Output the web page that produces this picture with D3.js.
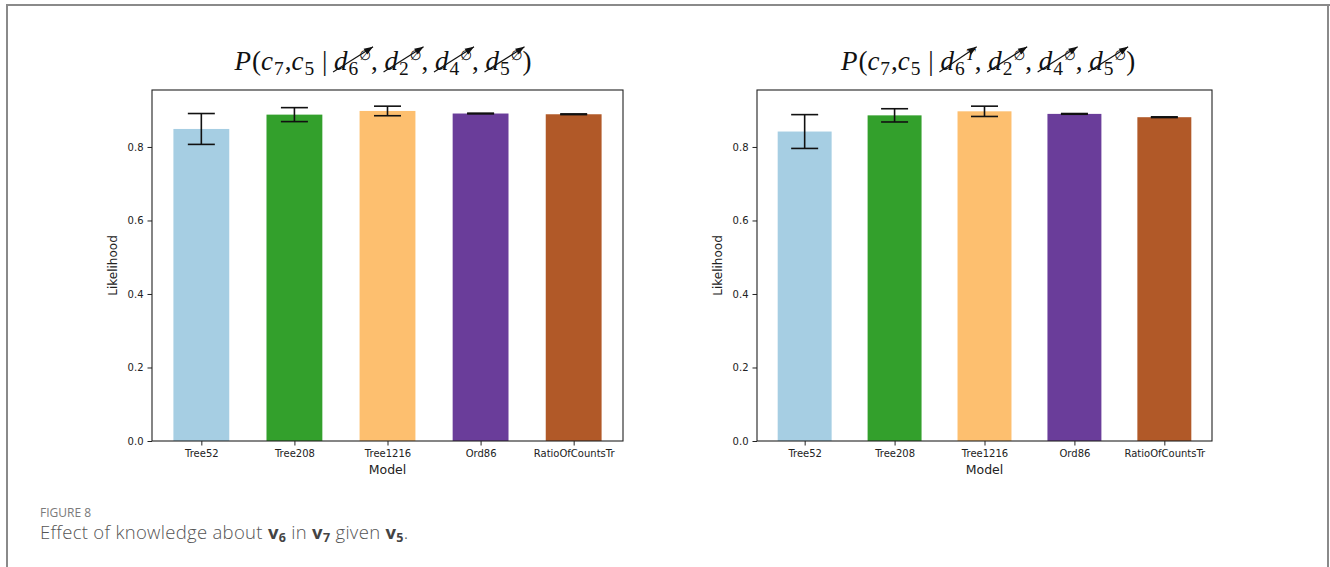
<!DOCTYPE html>
<html>
<head>
<meta charset="utf-8">
<script src="https://cdn.jsdelivr.net/npm/d3@7"></script>
<style>
  html, body { margin: 0; padding: 0; background: #fff; }
  svg { display: block; }
</style>
</head>
<body>
<svg id="fig" width="1330" height="567"></svg>
<script>
// ---- data ----
const categories = ["Tree52", "Tree208", "Tree1216", "Ord86", "RatioOfCountsTr"];
const barColors = ["#a6cee3", "#33a02c", "#fdbf6f", "#6a3d9a", "#b15928"];

// v6 unknown (left panel)
const likelihoodV6Unknown = [0.849, 0.888, 0.898, 0.891, 0.889];
const errorV6Unknown      = [0.042, 0.019, 0.013, 0.001, 0.001];

// v6 observed true (right panel)
const likelihoodV6True = [0.842, 0.886, 0.897, 0.890, 0.881];
const errorV6True      = [0.046, 0.018, 0.014, 0.001, 0.001];

const yTicks = [0.0, 0.2, 0.4, 0.6, 0.8];
const yTickLabels = ["0.0", "0.2", "0.4", "0.6", "0.8"];
const xLabel = "Model";
const yLabel = "Likelihood";
const v6States = ["∅", "T"];

const svg = d3.select("#fig");

// page frame
const frame = svg.append("g").attr("stroke", "#8a8a8a").attr("stroke-width", 2).attr("fill", "none");
frame.append("line").attr("x1", 6).attr("x2", 1330).attr("y1", 5).attr("y2", 5);
frame.append("line").attr("x1", 7).attr("x2", 7).attr("y1", 4).attr("y2", 567);
frame.append("line").attr("x1", 1328).attr("x2", 1328).attr("y1", 4).attr("y2", 567);

// panel boxes
const panels = [
  { left: 152, right: 623, top: 90, bottom: 441, values: likelihoodV6Unknown, errors: errorV6Unknown, state: v6States[0], titleX: 383 },
  { left: 757, right: 1212, top: 90, bottom: 441, values: likelihoodV6True, errors: errorV6True, state: v6States[1], titleX: 988 }
];

// mathtext-like title with cancel arrows over each conditioning variable
function drawTitle(g, cx, baseline, state) {
  const fs = 27;
  const serif = "'Liberation Serif', 'DejaVu Serif', serif";
  const tokens = [
    { t: "P", it: true }, { t: "(" }, { t: "c", it: true }, { t: "7", sub: true }, { t: "," },
    { t: "c", it: true }, { t: "5", sub: true }, { t: " | " }
  ];
  const vars = [["6", state], ["2", "∅"], ["4", "∅"], ["5", "∅"]];
  vars.forEach((v, i) => {
    tokens.push({ t: "d", it: true, cancelStart: true });
    tokens.push({ t: v[0], sub: true });
    tokens.push({ t: v[1], sup: true, it: v[1] === "T", sym: v[1] !== "T", cancelEnd: true });
    if (i < vars.length - 1) tokens.push({ t: ", " });
  });
  tokens.push({ t: ")" });

  const tg = g.append("g");
  let x = 0;
  const placed = [];
  tokens.forEach(tok => {
    let size = tok.sub ? fs * 0.72 : tok.sup ? fs * 0.6 : fs;
    if (tok.sym) size = fs * 0.5;
    const dy = tok.sub ? fs * 0.18 : tok.sup ? -fs * 0.38 : 0;
    const el = tg.append("text")
      .attr("x", x).attr("y", baseline + dy)
      .attr("font-family", tok.sym ? "'DejaVu Sans', sans-serif" : serif)
      .attr("font-size", size)
      .attr("font-style", tok.it ? "italic" : "normal")
      .attr("fill", "#111")
      .style("white-space", "pre")
      .text(tok.t);
    const w = el.node().getComputedTextLength();
    placed.push({ tok, x0: x, x1: x + w });
    x += w + (tok.it && !tok.sup ? 1 : 0) + (tok.sub ? 1 : 0);
  });
  const shift = cx - x / 2;
  tg.attr("transform", `translate(${shift},0)`);

  // cancel arrows
  let start = null;
  placed.forEach(p => {
    if (p.tok.cancelStart) start = p.x0;
    if (p.tok.cancelEnd) {
      const x1 = shift + start - 1, y1 = baseline + 2;
      const x2 = shift + p.x1 + 2, y2 = baseline - fs * 0.86;
      g.append("line").attr("x1", x1).attr("y1", y1).attr("x2", x2).attr("y2", y2)
        .attr("stroke", "#111").attr("stroke-width", 1.2);
      const ang = Math.atan2(y2 - y1, x2 - x1);
      const L = 9, W = 3.4;
      const bx = x2 - L * Math.cos(ang), by = y2 - L * Math.sin(ang);
      const px = -Math.sin(ang) * W, py = Math.cos(ang) * W;
      g.append("path")
        .attr("d", `M${x2},${y2}L${bx + px},${by + py}L${bx - px},${by - py}Z`)
        .attr("fill", "#111");
    }
  });
}

panels.forEach(p => {
  const g = svg.append("g");
  const x = d3.scaleLinear().domain([-0.53, categories.length - 1 + 0.53]).range([p.left, p.right]);
  const y = d3.scaleLinear().domain([0, 0.955]).range([p.bottom, p.top]);
  const barW = x(0.6) - x(0);

  // bars
  g.selectAll("rect.bar").data(categories).join("rect")
    .attr("class", "bar")
    .attr("x", (d, i) => x(i) - barW / 2)
    .attr("width", barW)
    .attr("y", (d, i) => y(p.values[i]))
    .attr("height", (d, i) => y(0) - y(p.values[i]))
    .attr("fill", (d, i) => barColors[i]);

  // error bars
  const cap = 13.5;
  const eb = g.append("g").attr("stroke", "#111").attr("stroke-width", 1.6);
  categories.forEach((c, i) => {
    const lo = y(p.values[i] - p.errors[i]), hi = y(p.values[i] + p.errors[i]);
    eb.append("line").attr("x1", x(i)).attr("x2", x(i)).attr("y1", lo).attr("y2", hi);
    eb.append("line").attr("x1", x(i) - cap).attr("x2", x(i) + cap).attr("y1", lo).attr("y2", lo);
    eb.append("line").attr("x1", x(i) - cap).attr("x2", x(i) + cap).attr("y1", hi).attr("y2", hi);
  });

  // axes
  const font = "'DejaVu Sans', sans-serif";
  const yAxis = g.append("g").attr("transform", `translate(${p.left},0)`)
    .call(d3.axisLeft(y).tickValues(yTicks).tickFormat((d, i) => yTickLabels[i]).tickSize(4.5).tickPadding(4));
  const xAxis = g.append("g").attr("transform", `translate(0,${p.bottom})`)
    .call(d3.axisBottom(x).tickValues(d3.range(categories.length)).tickFormat((d, i) => categories[i]).tickSize(4.5).tickPadding(4));
  [xAxis, yAxis].forEach(a => {
    a.select(".domain").remove();
    a.selectAll("line").attr("stroke", "#222").attr("stroke-width", 1);
    a.selectAll("text").attr("font-family", font).attr("font-size", 10).attr("fill", "#222");
  });

  // frame of axes
  g.append("rect").attr("x", p.left).attr("y", p.top)
    .attr("width", p.right - p.left).attr("height", p.bottom - p.top)
    .attr("fill", "none").attr("stroke", "#222").attr("stroke-width", 1.1);

  // axis labels
  g.append("text").attr("x", (p.left + p.right) / 2).attr("y", 474)
    .attr("text-anchor", "middle").attr("font-family", font).attr("font-size", 12.5).attr("fill", "#222")
    .text(xLabel);
  g.append("text").attr("transform", `translate(${p.left - 35},${(p.top + p.bottom) / 2}) rotate(-90)`)
    .attr("text-anchor", "middle").attr("font-family", font).attr("font-size", 12).attr("fill", "#222")
    .text(yLabel);

  drawTitle(g, p.titleX, 70, p.state);
});

// caption
const capFont = "'Open Sans', 'Lato', sans-serif";
svg.append("text").attr("x", 40).attr("y", 517)
  .attr("font-family", capFont).attr("font-size", 12).attr("fill", "#7a7a7a")
  .text("FIGURE 8");
const cap = svg.append("text").attr("x", 40).attr("y", 539)
  .attr("font-family", capFont).attr("font-size", 18.5).attr("font-weight", 300)
  .attr("letter-spacing", 0.3).attr("fill", "#555");
const capParts = [
  ["Effect of knowledge about ", false], ["v", true], ["6", true, true], [" in ", false],
  ["v", true], ["7", true, true], [" given ", false], ["v", true], ["5", true, true], [".", false]
];
capParts.forEach(([t, b, sub], i) => {
  const prev = capParts[i - 1];
  const ts = cap.append("tspan").style("white-space", "pre").text(t);
  if (b) ts.attr("font-weight", 700).attr("fill", "#444");
  if (sub) ts.attr("font-size", 12.5).attr("dy", 3);
  else ts.attr("dy", prev && prev[2] ? -3 : 0);
});
</script>
</body>
</html>
